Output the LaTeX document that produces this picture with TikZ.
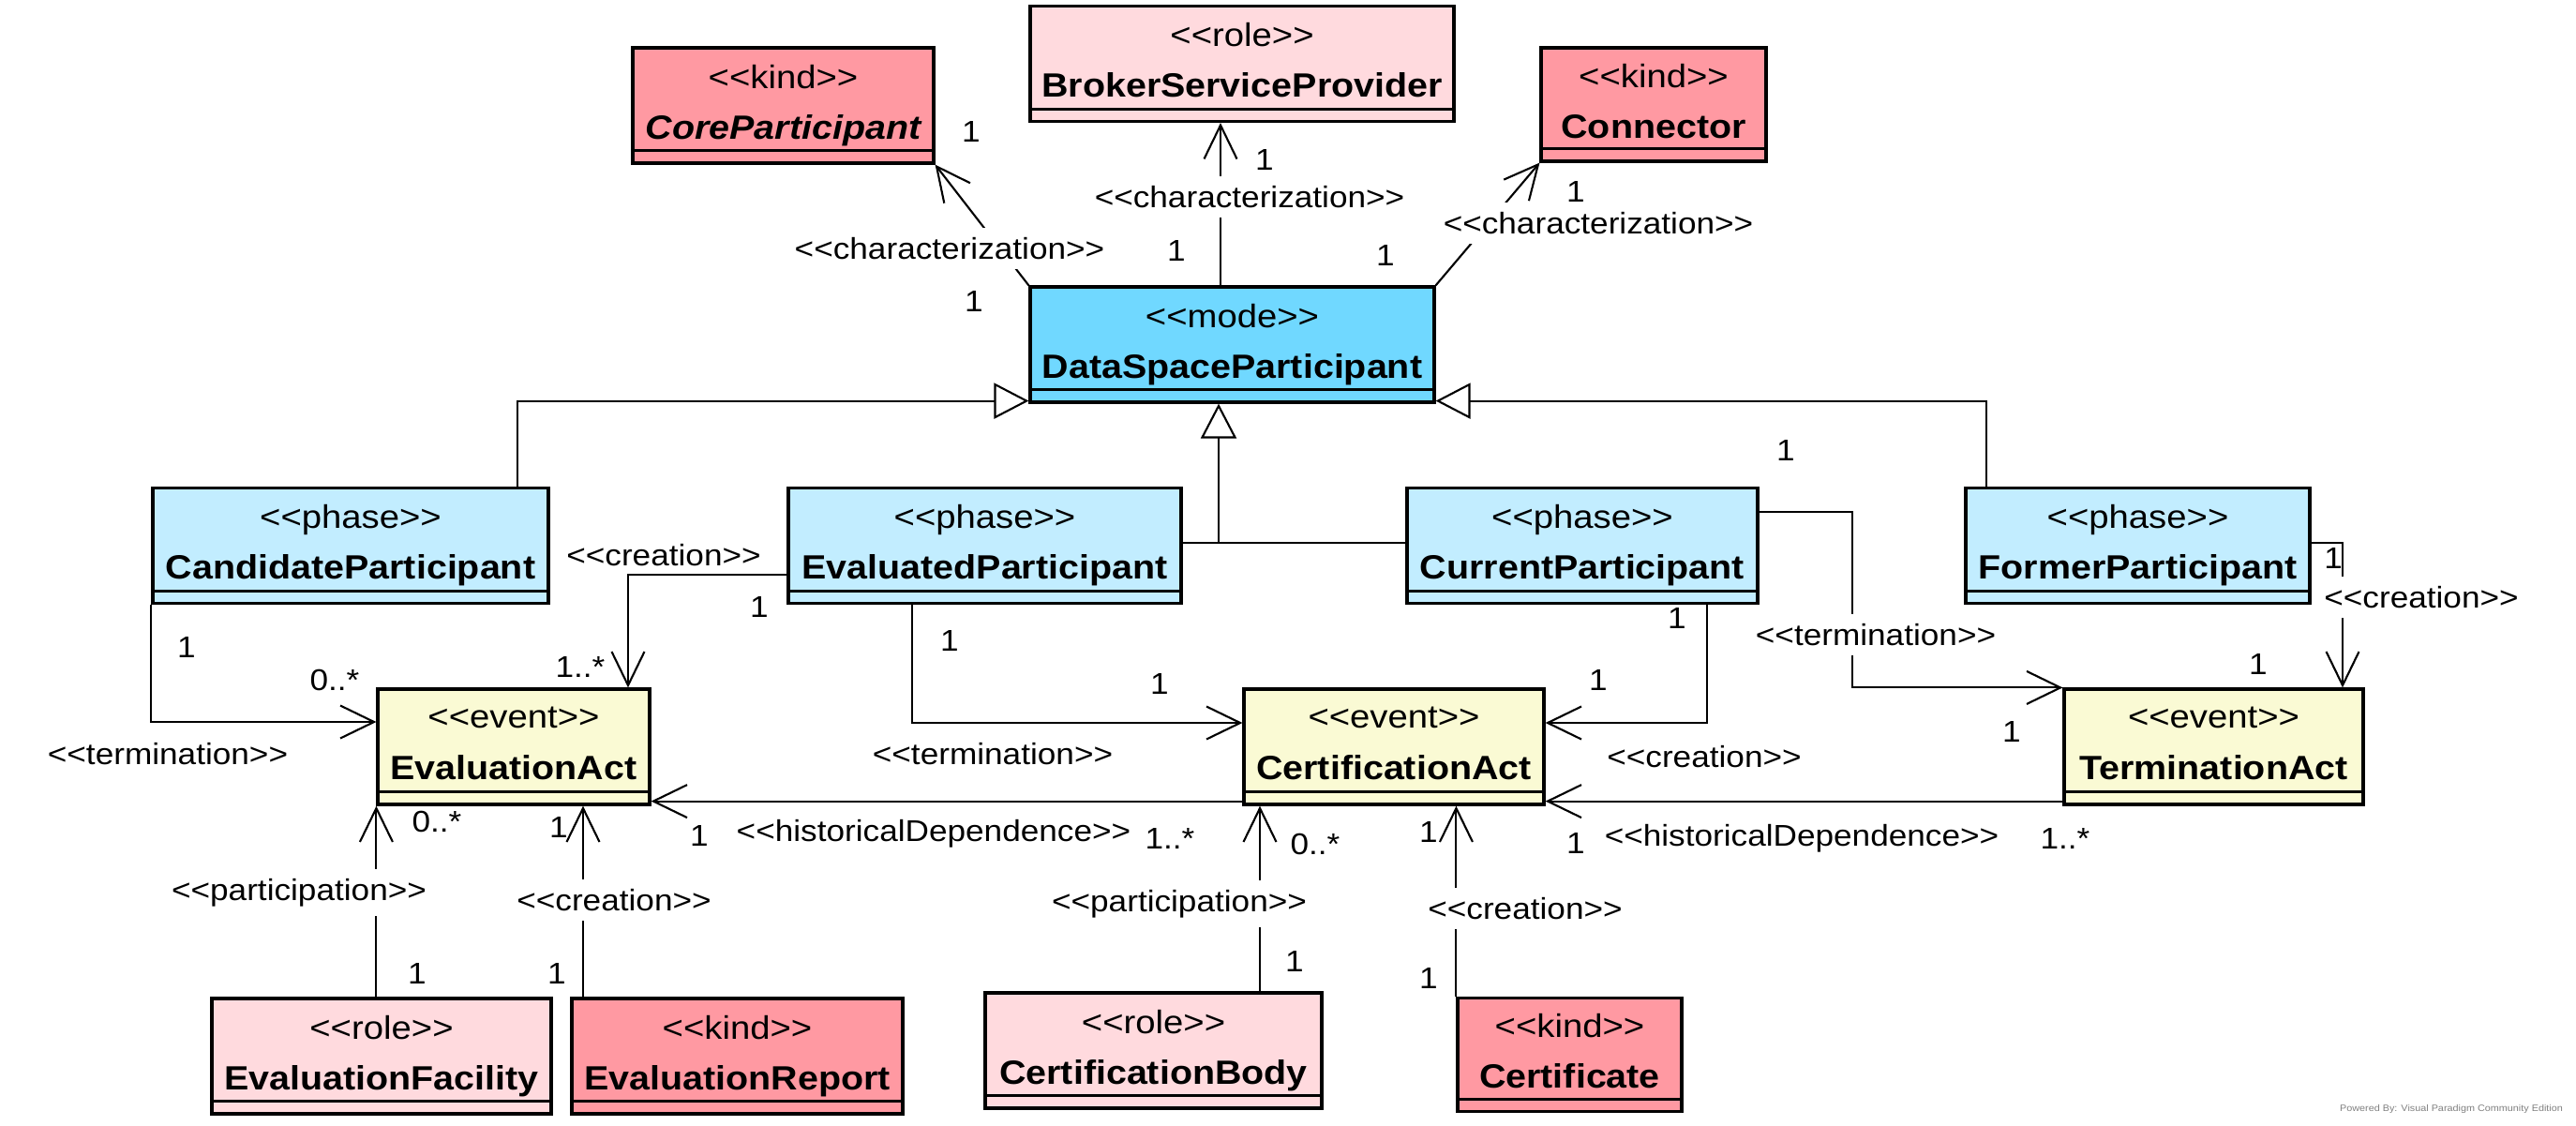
\documentclass[tikz,border=0pt]{standalone}
\usepackage{fontspec}
\setmainfont[FakeStretch=1.1]{Liberation Sans}
\usetikzlibrary{arrows.meta, positioning, calc}
\definecolor{kindfill}{HTML}{FF99A2}
\definecolor{rolefill}{HTML}{FFDADE}
\definecolor{modefill}{HTML}{70D8FF}
\definecolor{phasefill}{HTML}{C2EDFF}
\definecolor{eventfill}{HTML}{FAFAD4}
\newcommand{\st}[1]{<{}<#1>{}>}
\newcommand{\cls}[2]{{\fontsize{9.9pt}{15.4pt}\selectfont\st{#1}}\\{\fontsize{10.2pt}{15.4pt}\selectfont\bfseries #2\vphantom{p}}}

\begin{document}
\begin{tikzpicture}[
    on grid,
    every node/.style={font=\fontsize{9.1pt}{15.4pt}\selectfont},
    clsbox/.style={rectangle, draw, line width=0.9pt, align=center, inner sep=0pt, minimum height=1.23cm},
    kindbox/.style={clsbox, fill=kindfill},
    rolebox/.style={clsbox, fill=rolefill},
    modebox/.style={clsbox, fill=modefill},
    phasebox/.style={clsbox, fill=phasefill},
    eventbox/.style={clsbox, fill=eventfill},
    link/.style={line width=0.6pt},
    assoc/.style={link, -{Straight Barb[length=3.6mm, width=3.5mm]}},
    gen/.style={link, -{Triangle[open, length=3.7mm, width=3.8mm]}},
    onlbl/.style={fill=white, inner xsep=1pt, inner ysep=3pt},
    offlbl/.style={inner sep=1pt},
    mult/.style={inner sep=1pt}
]
    \useasboundingbox (0,0) rectangle (27.48,-12);

    % top
    \node[modebox, minimum width=4.31cm] (dsp) at (13.145,-3.675) {\cls{mode}{DataSpaceParticipant}};
    \node[kindbox, minimum width=3.21cm, above left=2.55cm and 4.79cm of dsp] (core) {{\fontsize{9.9pt}{15.4pt}\selectfont\st{kind}}\\{\fontsize{10.2pt}{15.4pt}\selectfont\bfseries\itshape CoreParticipant\vphantom{p}}};
    \node[rolebox, minimum width=4.52cm, above right=2.995cm and 0.105cm of dsp] (broker) {\cls{role}{BrokerServiceProvider}};
    \node[kindbox, minimum width=2.40cm, minimum height=1.21cm, above right=2.56cm and 4.495cm of dsp] (conn) {\cls{kind}{Connector}};

    % phases
    \node[phasebox, minimum width=4.19cm, below left=2.145cm and 2.64cm of dsp] (evald) {\cls{phase}{EvaluatedParticipant}};
    \node[phasebox, minimum width=4.22cm, left=6.765cm of evald] (cand) {\cls{phase}{CandidateParticipant}};
    \node[phasebox, minimum width=3.74cm, below right=2.145cm and 3.735cm of dsp] (curr) {\cls{phase}{CurrentParticipant}};
    \node[phasebox, minimum width=3.67cm, right=5.925cm of curr] (former) {\cls{phase}{FormerParticipant}};

    % events
    \node[eventbox, minimum width=3.20cm, below right=4.29cm and 1.725cm of dsp] (certact) {\cls{event}{CertificationAct}};
    \node[eventbox, minimum width=2.90cm, left=9.39cm of certact] (evact) {\cls{event}{EvaluationAct}};
    \node[eventbox, minimum width=3.19cm, right=8.745cm of certact] (termact) {\cls{event}{TerminationAct}};

    % bottom
    \node[rolebox, minimum width=3.62cm, below left=3.30cm and 1.41cm of evact] (evfac) {\cls{role}{EvaluationFacility}};
    \node[kindbox, minimum width=3.53cm, right=3.795cm of evfac] (evrep) {\cls{kind}{EvaluationReport}};
    \node[rolebox, minimum width=3.59cm, below left=3.24cm and 2.565cm of certact] (certbody) {\cls{role}{CertificationBody}};
    \node[kindbox, minimum width=2.39cm, minimum height=1.21cm, below right=3.285cm and 1.875cm of certact] (cert) {\cls{kind}{Certificate}};

    \foreach \n in {dsp,core,broker,conn,evald,cand,curr,former,certact,evact,termact,evfac,evrep,certbody,cert}
        \draw[line width=0.9pt] ([yshift=0.15cm]\n.south west) -- ([yshift=0.15cm]\n.south east);

    % characterization
    \draw[assoc] (dsp.north west) -- (core.south east);
    \draw[assoc] ([xshift=-0.125cm]dsp.north) -- ([xshift=-0.125cm]dsp.north |- broker.south);
    \draw[assoc] (dsp.north east) -- (conn.south west);

    % generalization
    \draw[gen] ([xshift=1.78cm]cand.north) |- ([yshift=0.03cm]dsp.south west);
    \draw[gen] ([xshift=-1.615cm]former.north) |- ([yshift=0.03cm]dsp.south east);
    \draw[link] ([yshift=0.03cm]evald.east) -- ([yshift=0.03cm]curr.west);
    \coordinate (gj) at ($(dsp.south |- evald.east)+(-0.145,0.03)$);
    \draw[gen] (gj) -- (gj |- dsp.south);

    % termination and creation
    \draw[assoc] (cand.south west) |- ([yshift=0.265cm]evact.west);
    \draw[assoc] ([yshift=-0.31cm]evald.west) -| ([xshift=1.22cm]evact.north);
    \draw[assoc] ([xshift=-0.775cm]evald.south) |- ([yshift=0.255cm]certact.west);
    \draw[assoc] ([xshift=1.33cm]curr.south) |- ([yshift=0.255cm]certact.east);
    \draw[assoc] ([yshift=0.36cm]curr.east) -- ++(0.99,0) |- (termact.north west);
    \draw[assoc] ([yshift=0.03cm]former.east) -| ([xshift=1.375cm]termact.north);

    % historical dependence
    \draw[assoc] ([yshift=0.05cm]certact.south west) -- ([yshift=0.05cm]evact.south east);
    \draw[assoc] ([yshift=0.05cm]termact.south west) -- ([yshift=0.05cm]certact.south east);

    % participation and creation from below
    \draw[assoc] (evact.south west |- evfac.north) -- (evact.south west);
    \draw[assoc] ([xshift=-1.645cm]evrep.north) -- ([xshift=-1.645cm]evrep.north |- evact.south);
    \draw[assoc] ([xshift=1.135cm]certbody.north) -- ([xshift=1.135cm]certbody.north |- certact.south);
    \draw[assoc] (cert.north west) -- (cert.north west |- certact.south);

    % stereotype labels
    \foreach \x/\y/\t [count=\i] in {10.13/2.65/characterization, 13.33/2.10/characterization,
        17.05/2.38/characterization, 3.19/9.52/participation, 6.55/9.60/creation,
        20.01/6.77/termination, 25.83/6.37/creation, 12.58/9.64/participation, 16.27/9.69/creation}
        \node[onlbl] (on\i) at (\x,-\y) {\st{\t}};
    \foreach \x/\y/\t [count=\i] in {1.79/8.04/termination, 7.08/5.92/creation, 10.59/8.04/termination,
        9.96/8.89/historicalDependence, 18.18/8.07/creation, 19.22/8.94/historicalDependence}
        \node[offlbl] (off\i) at (\x,-\y) {\st{\t}};

    % multiplicities
    \foreach \x/\y/\t [count=\i] in {10.36/1.40/1, 10.39/3.21/1, 13.49/1.70/1, 12.55/2.67/1,
        16.81/2.04/1, 14.78/2.72/1, 1.99/6.90/1, 3.57/7.25/0..*, 8.10/6.47/1, 6.19/7.11/1..*,
        10.13/6.83/1, 12.37/7.29/1, 7.46/8.91/1, 12.48/8.94/1..*, 4.66/8.76/0..*, 4.45/10.38/1,
        5.96/8.82/1, 5.94/10.38/1, 17.89/6.59/1, 17.05/7.25/1, 19.05/4.80/1, 21.46/7.80/1,
        24.89/5.95/1, 24.09/7.08/1, 16.81/8.99/1, 22.03/8.94/1..*, 14.03/9.00/0..*, 13.81/10.25/1,
        15.24/8.87/1, 15.24/10.43/1}
        \node[mult] (m\i) at (\x,-\y) {\t};

    \node[text=gray, font=\fontsize{2.8pt}{3pt}\selectfont] (wm) at (26.15,-11.83) {Powered By: Visual Paradigm Community Edition};
\end{tikzpicture}
\end{document}
